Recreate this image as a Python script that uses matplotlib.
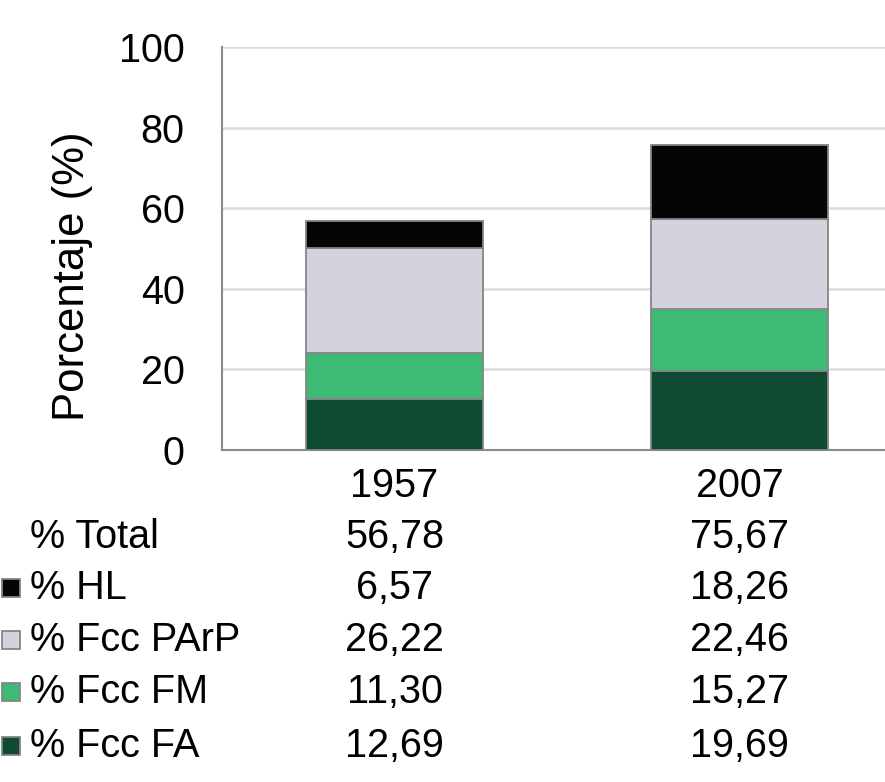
import numpy as np
import matplotlib.pyplot as plt
from matplotlib.patches import Rectangle
from matplotlib.transforms import blended_transform_factory

plt.rcParams['font.family'] = ['Liberation Sans', 'DejaVu Sans']

# datos de la tabla
years = ['1957', '2007']
total = [56.78, 75.67]
hl = [6.57, 18.26]
parp = [26.22, 22.46]
fm = [11.30, 15.27]
fa = [12.69, 19.69]

# apilado de abajo hacia arriba
series = [('% Fcc FA', fa, '#0f4a33'),
          ('% Fcc FM', fm, '#3dba74'),
          ('% Fcc PArP', parp, '#d3d3de'),
          ('% HL', hl, '#050505')]

W, H = 885, 782
fig = plt.figure(figsize=(W / 100, H / 100), dpi=100)
ax = fig.add_axes([222 / W, 1 - 450 / H, 690 / W, 403 / H])

x = np.arange(len(years))
bottom = np.zeros(len(years))
for name, vals, color in series:
    ax.bar(x, vals, 0.513, bottom=bottom, color=color,
           edgecolor='#858585', linewidth=1.3, zorder=3)
    bottom += np.array(vals)

ax.set_xlim(-0.5, 1.5)
ax.set_ylim(0, 100)
ax.set_yticks([0, 20, 40, 60, 80, 100])
ax.set_xticks(x)
ax.set_xticklabels(years)
ax.tick_params(axis='both', length=0, labelsize=28.5)
ax.tick_params(axis='y', pad=27)
ax.tick_params(axis='x', pad=12)
ax.grid(axis='y', color='#dadae3', linewidth=1.8, zorder=0)
ax.set_axisbelow(True)
for side in ['top', 'right']:
    ax.spines[side].set_visible(False)
for side in ['left', 'bottom']:
    ax.spines[side].set_color('#8a8a8a')
    ax.spines[side].set_linewidth(1.5)
ax.set_ylabel('Porcentaje (%)', fontsize=31.5)
ax.yaxis.set_label_coords(-0.187, 0.432)

# tabla de datos debajo del gráfico
trans = blended_transform_factory(ax.transData, fig.transFigure)
rows = [('% Total', total, None)] + [(n, v, c) for n, v, c in series[::-1]]
row_y = [537, 588, 640, 692, 746]
for (name, vals, color), py in zip(rows, row_y):
    fy = 1 - py / H
    fig.text(30 / W, fy, name, fontsize=28.5, ha='left', va='center')
    for xi, v in zip(x, vals):
        ax.text(xi, fy, f'{v:.2f}'.replace('.', ','), transform=trans,
                fontsize=28.5, ha='center', va='center', clip_on=False)
    if color is not None:
        fig.patches.append(Rectangle((2 / W, fy - 9 / H), 18 / W, 18 / H,
                                     transform=fig.transFigure,
                                     facecolor=color, edgecolor='#858585',
                                     linewidth=1.3))

fig.savefig('out.png', dpi=100)
